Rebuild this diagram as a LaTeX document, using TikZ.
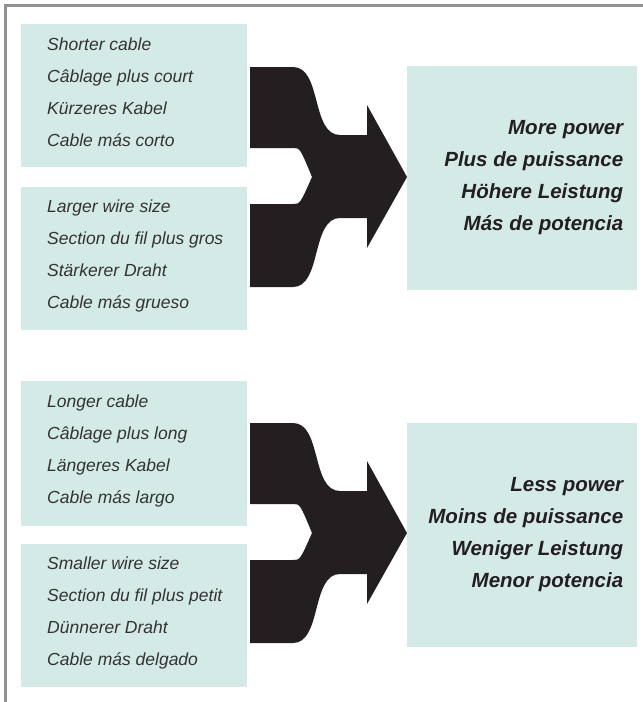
\documentclass[tikz,border=0pt]{standalone}
\usepackage{fontspec}
\setmainfont{Liberation Sans}
\usepackage{tikz}
\usetikzlibrary{calc}

\definecolor{panelfill}{HTML}{D4EAE7}
\definecolor{arrowfill}{HTML}{231F20}
\definecolor{framegray}{HTML}{929292}
\definecolor{causetext}{HTML}{333333}

\tikzset{
  panel/.style={rectangle,fill=panelfill,inner sep=0pt,anchor=north west},
  causetxt/.style={align=left,inner sep=0pt,text=causetext,
    font=\fontsize{17.5}{32}\selectfont\itshape},
  effecttxt/.style={align=right,inner sep=0pt,text=arrowfill,
    font=\fontsize{20.5}{32}\selectfont\bfseries\itshape}
}

% the merging black arrow, drawn at the top pair of panels
\newcommand{\mergearrow}{%
  \fill[arrowfill] (250,67) -- (293,67)
    .. controls (322,67) and (311,135) .. (340,135)
    -- (367,135) -- (367,105) -- (407,177) -- (367,248) -- (367,218) -- (340,218)
    .. controls (311,218) and (322,287) .. (293,287)
    -- (250,287) -- (250,204) -- (293,204)
    .. controls (300,204) .. (312,177)
    .. controls (300,148) .. (293,148)
    -- (250,148) -- cycle;}

\begin{document}
\begin{tikzpicture}[x=1pt,y=-1pt]

\useasboundingbox (0,0) rectangle (643,702);

% frame
\draw[framegray,line width=3pt] (643,5) -- (5,5) -- (5,702);

% upper group
\node[panel,minimum width=226pt,minimum height=143pt] (short) at (21,24) {};
\node[panel,minimum width=226pt,minimum height=143pt] (thick) at (21,187) {};
\node[panel,minimum width=230pt,minimum height=224pt] (more) at (407,66) {};

\node[causetxt,anchor=west] (shorttxt) at ([xshift=26pt,yshift=3pt]short.west)
  {Shorter cable\\Câblage plus court\\Kürzeres Kabel\\Cable más corto};
\node[causetxt,anchor=west] (thicktxt) at ([xshift=26pt,yshift=3pt]thick.west)
  {Larger wire size\\Section du fil plus gros\\Stärkerer Draht\\Cable más grueso};
\node[effecttxt,anchor=east] (moretxt) at ([xshift=-14pt,yshift=1pt]more.east)
  {More power\\Plus de puissance\\Höhere Leistung\\Más de potencia};

\mergearrow

% lower group
\node[panel,minimum width=226pt,minimum height=145pt] (long) at (21,381) {};
\node[panel,minimum width=226pt,minimum height=143pt] (thin) at (21,544) {};
\node[panel,minimum width=230pt,minimum height=224pt] (less) at (407,423) {};

\node[causetxt,anchor=west] (longtxt) at ([xshift=26pt,yshift=3pt]long.west)
  {Longer cable\\Câblage plus long\\Längeres Kabel\\Cable más largo};
\node[causetxt,anchor=west] (thintxt) at ([xshift=26pt,yshift=3pt]thin.west)
  {Smaller wire size\\Section du fil plus petit\\Dünnerer Draht\\Cable más delgado};
\node[effecttxt,anchor=east] (lesstxt) at ([xshift=-14pt,yshift=1pt]less.east)
  {Less power\\Moins de puissance\\Weniger Leistung\\Menor potencia};

\begin{scope}[yshift=-356pt]
  \mergearrow
\end{scope}

\end{tikzpicture}
\end{document}
